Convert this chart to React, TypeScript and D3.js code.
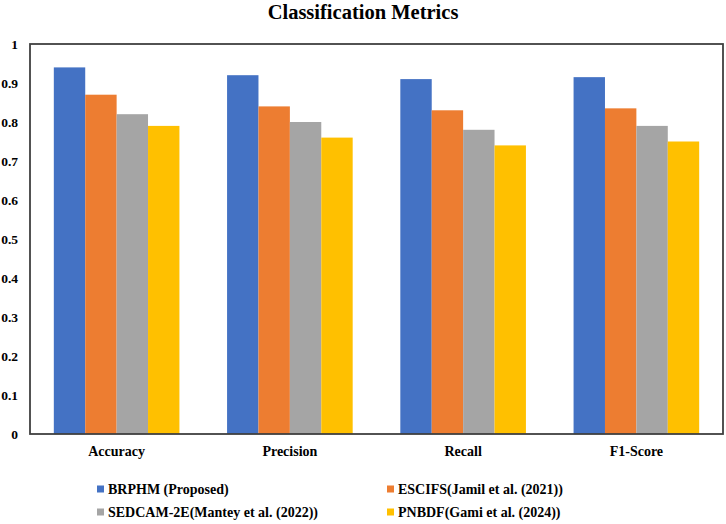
import * as d3 from "d3";

const categories = ["Accuracy", "Precision", "Recall", "F1-Score"];
const seriesNames = [
  "BRPHM (Proposed)",
  "ESCIFS(Jamil et al. (2021))",
  "SEDCAM-2E(Mantey et al. (2022))",
  "PNBDF(Gami et al. (2024))",
];
const seriesColors = ["#4472C4", "#ED7D31", "#A5A5A5", "#FFC000"];
const values = [
  [0.94, 0.92, 0.91, 0.915], // BRPHM
  [0.87, 0.84, 0.83, 0.835], // ESCIFS
  [0.82, 0.8, 0.78, 0.79], // SEDCAM-2E
  [0.79, 0.76, 0.74, 0.75], // PNBDF
];
const yTicks = [0, 0.1, 0.2, 0.3, 0.4, 0.5, 0.6, 0.7, 0.8, 0.9, 1];

const width = 726;
const height = 524;
const margin = { top: 44, right: 3, bottom: 90, left: 30 };
const font = "'Liberation Serif', 'Times New Roman', serif";

export default function App() {
  const x0 = d3
    .scaleBand<string>()
    .domain(categories)
    .range([margin.left, width - margin.right])
    .paddingInner(0.275)
    .paddingOuter(0.1375);

  const x1 = d3
    .scaleBand<number>()
    .domain(d3.range(seriesNames.length))
    .range([0, x0.bandwidth()]);

  const y = d3
    .scaleLinear()
    .domain([0, 1])
    .range([height - margin.bottom, margin.top]);

  const legendPos = [
    { x: 97, y: 489 },
    { x: 387, y: 489 },
    { x: 97, y: 512 },
    { x: 387, y: 512 },
  ];

  return (
    <svg
      width={width}
      height={height}
      style={{ position: "absolute", left: 0, top: 0, background: "#fff" }}
      fontFamily={font}
      fontWeight="bold"
    >
      <text x={363} y={19} textAnchor="middle" fontSize={20.5}>
        Classification Metrics
      </text>

      {categories.map((c, ci) => (
        <g key={c} transform={`translate(${x0(c)},0)`}>
          {values.map((s, si) => (
            <rect
              key={si}
              x={x1(si)}
              y={y(s[ci])}
              width={x1.bandwidth()}
              height={y(0) - y(s[ci])}
              fill={seriesColors[si]}
            />
          ))}
        </g>
      ))}

      <rect
        x={margin.left}
        y={margin.top}
        width={width - margin.left - margin.right}
        height={y(0) - margin.top}
        fill="none"
        stroke="#404040"
        strokeWidth={1.8}
      />

      {yTicks.map((t) => (
        <text
          key={t}
          x={18}
          y={y(t)}
          dy="0.35em"
          textAnchor="end"
          fontSize={13.5}
        >
          {d3.format("~g")(t)}
        </text>
      ))}

      {categories.map((c) => (
        <text
          key={c}
          x={(x0(c) ?? 0) + x0.bandwidth() / 2}
          y={451}
          dy="0.35em"
          textAnchor="middle"
          fontSize={14}
        >
          {c}
        </text>
      ))}

      {seriesNames.map((n, i) => (
        <g key={n} transform={`translate(${legendPos[i].x},${legendPos[i].y})`}>
          <rect x={0} y={-3.5} width={7} height={7} fill={seriesColors[i]} />
          <text x={11} y={0} dy="0.35em" fontSize={14}>
            {n}
          </text>
        </g>
      ))}
    </svg>
  );
}
